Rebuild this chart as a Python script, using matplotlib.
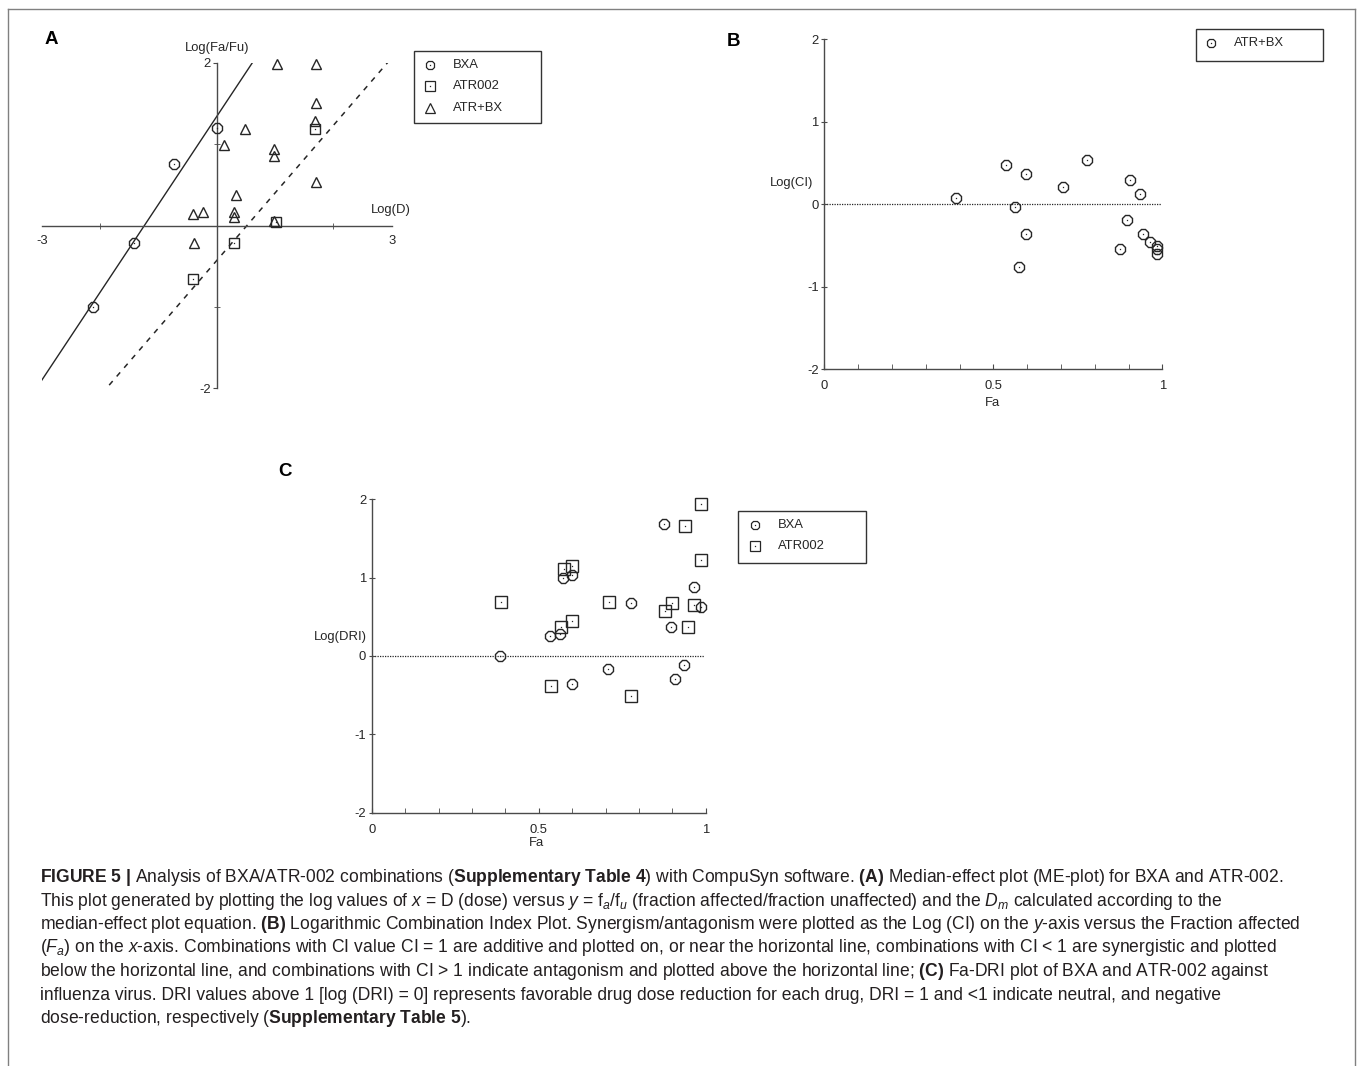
import numpy as np
import matplotlib
matplotlib.use('Agg')
import matplotlib.pyplot as plt
from matplotlib import font_manager
from matplotlib.lines import Line2D
from matplotlib.patches import Rectangle

# ---------------- data ----------------
# Panel A : median-effect plot  (log D  vs  log(Fa/Fu))
bxa_logd = [-2.12, -1.42, -0.73, 0.00]
bxa_logfafu = [-1.00, -0.22, 0.75, 1.20]
atr_logd = [-0.41, 0.30, 1.01, 1.68]
atr_logfafu = [-0.66, -0.21, 0.04, 1.18]
combo_logd = [1.03, 1.71, 1.70, 1.68, 0.48, 0.13, 0.99, 0.99, 1.70, 0.33,
              -0.40, -0.23, 0.30, 0.30, 0.99, -0.39]
combo_logfafu = [1.99, 1.99, 1.51, 1.28, 1.19, 0.99, 0.94, 0.85, 0.53, 0.38,
                 0.14, 0.16, 0.16, 0.10, 0.06, -0.21]
# median-effect lines (slope m, intercept)
bxa_m, bxa_b = 1.08, 1.34
atr_m, atr_b = 0.83, -0.43
series_A = ["BXA", "ATR002", "ATR+BX"]

# Panel B : Fa - log(CI)
ci_fa = [0.389, 0.537, 0.596, 0.564, 0.596, 0.577, 0.705, 0.776, 0.904,
         0.934, 0.896, 0.875, 0.944, 0.965, 0.985, 0.985, 0.983]
ci_log = [0.08, 0.48, 0.37, -0.04, -0.36, -0.76, 0.21, 0.53, 0.29,
          0.12, -0.19, -0.54, -0.36, -0.46, -0.51, -0.55, -0.61]
series_B = ["ATR+BX"]

# Panel C : Fa - log(DRI)
dri_bxa_fa = [0.384, 0.876, 0.574, 0.599, 0.966, 0.775, 0.986, 0.895, 0.534,
              0.564, 0.706, 0.936, 0.908, 0.599]
dri_bxa = [0.00, 1.69, 0.99, 1.03, 0.88, 0.68, 0.63, 0.37, 0.25,
           0.28, -0.16, -0.11, -0.29, -0.36]
dri_atr_fa = [0.386, 0.986, 0.938, 0.986, 0.576, 0.599, 0.709, 0.898, 0.878,
              0.966, 0.566, 0.599, 0.946, 0.536, 0.776]
dri_atr = [0.69, 1.94, 1.66, 1.23, 1.11, 1.15, 0.69, 0.68, 0.58,
           0.65, 0.37, 0.45, 0.37, -0.38, -0.51]
series_C = ["BXA", "ATR002"]

fa_ticklabels = ["0", "0.5", "1"]
logy_ticks = [-2, -1, 0, 1, 2]

# ---------------- style ----------------
W, H, DPI = 1358, 1066, 100
names = {f.name for f in font_manager.fontManager.ttflist}
PANEL_FONT = 'Liberation Sans Narrow' if 'Liberation Sans Narrow' in names else 'Liberation Sans'
CAP_FONT = 'Liberation Sans'
PFS = 10.5 if PANEL_FONT == 'Liberation Sans Narrow' else 9.4

plt.rcParams['font.family'] = [PANEL_FONT, 'DejaVu Sans']
plt.rcParams['axes.unicode_minus'] = False
plt.rcParams['mathtext.fontset'] = 'custom'
plt.rcParams['mathtext.rm'] = CAP_FONT
plt.rcParams['mathtext.it'] = CAP_FONT + ':italic'
plt.rcParams['mathtext.bf'] = CAP_FONT + ':bold'

INK = '#262626'
AX = '#4a4a4a'

fig = plt.figure(figsize=(W / DPI, H / DPI), dpi=DPI)
fig.patch.set_facecolor('white')


def fx(px):
    return px / W


def fy(py):
    return 1 - py / H


def px_axes(x0, x1, ytop, ybot):
    return fig.add_axes([fx(x0), fy(ybot), (x1 - x0) / W, (ybot - ytop) / H])


def dotted_markers(ax, x, y, marker, ms):
    ax.plot(x, y, ls='none', marker=marker, ms=ms, mfc='none', mec=INK,
            mew=1.0, clip_on=False, zorder=3)
    ax.plot(x, y, ls='none', marker='s', ms=0.9, mfc=INK, mec='none',
            clip_on=False, zorder=4)


def legend_box(x0, y0, x1, y1, entries, mx, tx):
    fig.add_artist(Rectangle((fx(x0), fy(y1)), (x1 - x0) / W, (y1 - y0) / H,
                             transform=fig.transFigure, fill=False,
                             ec='#333333', lw=1.0))
    for marker, ms, label, ry, dot in entries:
        fig.add_artist(Line2D([fx(mx)], [fy(ry)], transform=fig.transFigure,
                              marker=marker, ms=ms, mfc='none', mec=INK, mew=0.9, ls='none'))
        if dot:
            fig.add_artist(Line2D([fx(mx)], [fy(ry)], transform=fig.transFigure,
                                  marker='s', ms=0.9, mfc=INK, mec='none', ls='none'))
        fig.text(fx(tx), fy(ry), label, fontsize=PFS, color=INK, ha='left', va='center')


# outer frame
for xs, ys in [([8, 1355], [9, 9]), ([8, 8], [9, 1066]), ([1355, 1355], [9, 1066])]:
    fig.add_artist(Line2D([fx(v) for v in xs], [fy(v) for v in ys],
                          transform=fig.transFigure, color='#808080', lw=1.0))

# panel letters
for letter, (lx, ly) in zip("ABC", [(51.7, 40), (734, 41), (285, 472)]):
    fig.text(fx(lx), fy(ly), letter, fontsize=13.5, fontweight='bold',
             family='Liberation Sans', ha='center', va='center', color='black')

# ---------------- Panel A ----------------
axA = px_axes(41.8, 391.7, 62.7, 388.3)
axA.set_xlim(-3, 3)
axA.set_ylim(-2, 2)
axA.patch.set_alpha(0)
for s in ['top', 'right']:
    axA.spines[s].set_visible(False)
axA.spines['left'].set_position('zero')
axA.spines['bottom'].set_position('zero')
for s in ['left', 'bottom']:
    axA.spines[s].set_color(AX)
    axA.spines[s].set_linewidth(1.0)
axA.set_xticks([-3, 3])
axA.set_xticklabels(["-3", "3"])
axA.set_xticks([-2, 2], minor=True)
axA.set_yticks([-2, 2])
axA.set_yticklabels(["-2", "2"])
axA.set_yticks([-1, 1], minor=True)
axA.tick_params(axis='x', which='major', length=0, pad=7, labelsize=PFS, colors=INK)
axA.tick_params(axis='x', which='minor', direction='inout', length=5, color=AX)
axA.tick_params(axis='y', which='major', direction='out', length=3, pad=1.5,
                labelsize=PFS, colors=INK, color=AX)
axA.tick_params(axis='y', which='minor', direction='inout', length=5, color=AX)

xl = np.array(axA.get_xlim())
axA.plot(xl, bxa_m * xl + bxa_b, color=INK, lw=1.0, zorder=2)
axA.plot(xl, atr_m * xl + atr_b, color=INK, lw=1.1, ls=(0, (3.5, 4)), zorder=2)
dotted_markers(axA, bxa_logd, bxa_logfafu, '8', 7.6)
dotted_markers(axA, atr_logd, atr_logfafu, 's', 6.8)
axA.plot(combo_logd, combo_logfafu, ls='none', marker='^', ms=7.8, mfc='none',
         mec=INK, mew=1.0, clip_on=False, zorder=3)
axA.text(0.5, 1.0 + (62.7 - 48.3) / 325.6, 'Log(Fa/Fu)', transform=axA.transAxes,
         ha='center', va='center', fontsize=PFS, color=INK)
axA.text(0.998, (388.3 - 210) / 325.6, 'Log(D)', transform=axA.transAxes,
         ha='center', va='center', fontsize=PFS, color=INK)

legend_box(414.3, 50.7, 540.7, 122.7,
           [('8', 7.0, series_A[0], 65, True),
            ('s', 6.6, series_A[1], 86, True),
            ('^', 7.4, series_A[2], 108, False)], 430, 452.7)


# ---------------- Panels B / C ----------------
def fa_axes(ax, ylabel, lx, ly, fax, fay):
    ax.set_xlim(0, 1)
    ax.set_ylim(-2, 2)
    ax.patch.set_alpha(0)
    for s in ['top', 'right']:
        ax.spines[s].set_visible(False)
    for s in ['left', 'bottom']:
        ax.spines[s].set_color(AX)
        ax.spines[s].set_linewidth(1.0)
    ax.set_xticks([0, 0.5, 1])
    ax.set_xticklabels(fa_ticklabels)
    ax.set_xticks(np.arange(0.1, 1.0, 0.1), minor=True)
    ax.set_yticks(logy_ticks)
    ax.set_yticklabels([str(v) for v in logy_ticks])
    ax.tick_params(axis='x', which='both', direction='in', length=3.5, color=AX)
    ax.tick_params(axis='x', which='major', pad=8, labelsize=PFS, labelcolor=INK)
    ax.tick_params(axis='y', which='major', direction='inout', length=4, pad=2,
                   labelsize=PFS, labelcolor=INK, color=AX)
    ax.axhline(0, xmin=0, xmax=0.995, color=INK, lw=0.9, ls=(0, (1, 1)), zorder=1)
    ax.text(lx, ly, ylabel, transform=ax.transAxes, ha='center', va='center',
            fontsize=PFS, color=INK)
    ax.text(fax, fay, 'Fa', transform=ax.transAxes, ha='center', va='center',
            fontsize=PFS, color=INK)


axB = px_axes(824.3, 1162.3, 39.3, 369)
fa_axes(axB, 'Log(CI)', -0.096, 0.563, 0.497, -0.104)
dotted_markers(axB, ci_fa, ci_log, '8', 7.6)
legend_box(1195.8, 29.5, 1322.8, 60.7,
           [('8', 7.0, series_B[0], 43, True)], 1211.4, 1234)

axC = px_axes(371.7, 705.7, 499.3, 812.7)
fa_axes(axC, 'Log(DRI)', -0.093, 0.5616, 0.494, -0.0976)
dotted_markers(axC, dri_bxa_fa, dri_bxa, '8', 7.6)
dotted_markers(axC, dri_atr_fa, dri_atr, 's', 8.6)
legend_box(738.3, 510.7, 866, 563.3,
           [('8', 7.0, series_C[0], 525, True),
            ('s', 7.0, series_C[1], 546, True)], 754.7, 777.8)

# ---------------- caption ----------------
caption = [
    r"$\mathbf{FIGURE\ 5\ |}$ Analysis of BXA/ATR-002 combinations ($\mathbf{Supplementary\ Table\ 4}$) with CompuSyn software. $\mathbf{(A)}$ Median-effect plot (ME-plot) for BXA and ATR-002.",
    r"This plot generated by plotting the log values of $x$ = D (dose) versus $y$ = f$_a$/f$_u$ (fraction affected/fraction unaffected) and the $D_m$ calculated according to the",
    r"median-effect plot equation. $\mathbf{(B)}$ Logarithmic Combination Index Plot. Synergism/antagonism were plotted as the Log (CI) on the $y$-axis versus the Fraction affected",
    r"($F_a$) on the $x$-axis. Combinations with CI value CI = 1 are additive and plotted on, or near the horizontal line, combinations with CI < 1 are synergistic and plotted",
    r"below the horizontal line, and combinations with CI > 1 indicate antagonism and plotted above the horizontal line; $\mathbf{(C)}$ Fa-DRI plot of BXA and ATR-002 against",
    r"influenza virus. DRI values above 1 [log (DRI) = 0] represents favorable drug dose reduction for each drug, DRI = 1 and <1 indicate neutral, and negative",
    r"dose-reduction, respectively ($\mathbf{Supplementary\ Table\ 5}$).",
]
renderer = fig.canvas.get_renderer()
probe = fig.text(0, 0, caption[2], fontsize=11, family=CAP_FONT)
wpx = probe.get_window_extent(renderer=renderer).width
probe.remove()
cfs = 11 * 1260.0 / wpx
for i, line in enumerate(caption):
    fig.text(fx(40), fy(882 + 23.5 * i), line, fontsize=cfs, family=CAP_FONT,
             color='#231f20', ha='left', va='baseline')

fig.savefig('out.png', dpi=DPI)
